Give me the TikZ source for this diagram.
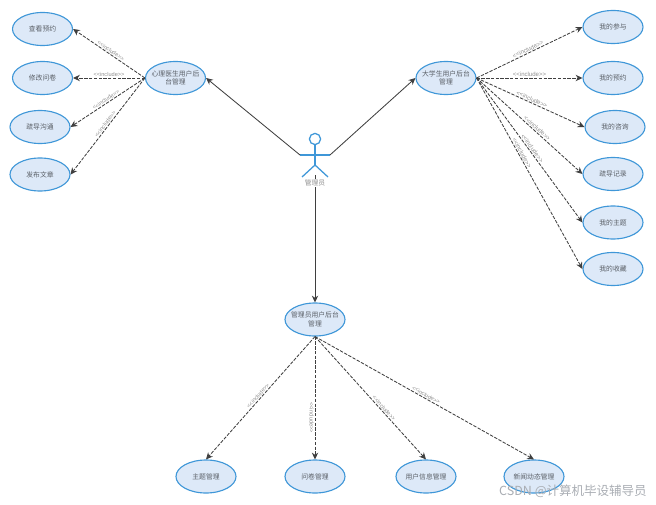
\documentclass[tikz,border=0pt]{standalone}
\usepackage{fontspec}
\setmainfont{Liberation Sans}
\newfontfamily\cjk{Noto Sans CJK SC}
\usetikzlibrary{arrows.meta, shapes.geometric}
\definecolor{ucblue}{HTML}{3F97D8}
\definecolor{uclight}{HTML}{DDE9F8}
\definecolor{uctext}{HTML}{5A5F66}
\definecolor{ucline}{HTML}{3F3F3F}
\definecolor{uclabel}{HTML}{8F8F8F}
\definecolor{ucmark}{HTML}{A9ADB3}

\begin{document}
\begin{tikzpicture}[x=0.025cm, y=-0.025cm,
     uc/.style={ellipse, draw=ucblue, line width=0.8pt, fill=uclight, minimum width=1.5cm, minimum height=0.825cm,
       inner sep=-3pt, align=center, text=uctext, font=\cjk\fontsize{4.85}{5.9}\selectfont},
     act/.style={draw=ucblue, line width=0.9pt},
     a/.style={-{Stealth[length=1.7mm, width=1.6mm]}, ucline, line width=0.6pt},
     inc/.style={-{Stealth[length=1.7mm, width=1.6mm]}, ucline, line width=0.6pt, dash pattern=on 2.4pt off 1pt},
     lab/.style={sloped, above, inner sep=0.6pt, text=uclabel, font=\fontsize{4}{4}\selectfont},
     labw/.style={lab, font=\fontsize{4.3}{4.3}\selectfont}]
    \useasboundingbox (0,0) rectangle (656,505);
    % doctor side
    \node[uc] (doc) at (175.5,78) {心理医生用户后\\台管理};
    \node[uc] (dview) at (42.5,29) {查看预约};
    \node[uc] (dform) at (42.5,78) {修改问卷};
    \node[uc] (dtalk) at (40,127) {疏导沟通};
    \node[uc] (dpost) at (40,174.5) {发布文章};
    % student side
    \node[uc] (stu) at (446,78) {大学生用户后台\\管理};
    \node[uc] (sjoin) at (613,27) {我的参与};
    \node[uc] (sbook) at (613,78) {我的预约};
    \node[uc] (sask) at (615,127) {我的咨询};
    \node[uc] (slog) at (613,174) {疏导记录};
    \node[uc] (stopic) at (613,222.5) {我的主题};
    \node[uc] (sfav) at (613,269) {我的收藏};
    % admin side
    \node[uc] (adm) at (315,319.5) {管理员用户后台\\管理};
    \node[uc] (mtopic) at (206,476.5) {主题管理};
    \node[uc] (mform) at (315,476.5) {问卷管理};
    \node[uc] (muser) at (426,476.5) {用户信息管理};
    \node[uc] (mnews) at (534,476.5) {新闻动态管理};
    % actor
    \node[circle, act, minimum size=0.28cm, inner sep=0pt] (head) at (315,139) {};
    \coordinate (handl) at (300,155);
    \coordinate (handr) at (330,155);
    \coordinate (hip) at (315,165);
    \coordinate (footl) at (302,177);
    \coordinate (footr) at (328,177);
    \coordinate (base) at (315,175);
    \draw[act] (head.south) -- (hip);
    \draw[act] (handl) -- (handr);
    \draw[act] (footl) -- (hip) -- (footr);
    \draw[a] (handl) -- (doc.east);
    \draw[a] (handr) -- (stu.west);
    \draw[a] (base) -- (adm.north);
    \node[fill=white, inner sep=0.5pt, text=uclabel, font=\cjk\fontsize{4.85}{5.9}\selectfont] (mgr) at (315,183) {管理员};
    % includes
    \draw[inc] (doc.west) -- node[lab] {<{}<include>{}>} (dview.east);
    \draw[inc] (doc.west) -- node[lab] {<{}<include>{}>} (dform.east);
    \draw[inc] (doc.west) -- node[lab] {<{}<include>{}>} (dtalk.east);
    \draw[inc] (doc.west) -- node[lab] {<{}<include>{}>} (dpost.east);
    \draw[inc] (stu.east) -- node[labw] {<{}<include>{}>} (sjoin.west);
    \draw[inc] (stu.east) -- node[labw] {<{}<include>{}>} (sbook.west);
    \draw[inc] (stu.east) -- node[labw] {<{}<include>{}>} (sask.west);
    \draw[inc] (stu.east) -- node[labw, pos=0.55] {<{}<include>{}>} (slog.west);
    \draw[inc] (stu.east) -- node[labw, pos=0.5] {<{}<include>{}>} (stopic.west);
    \draw[inc] (stu.east) -- node[labw, pos=0.4] {<{}<include>{}>} (sfav.west);
    \draw[inc] (adm.south) -- node[lab] {<{}<include>{}>} (mtopic.north);
    \draw[inc] (adm.south) -- node[lab, below, pos=0.66] {<{}<include>{}>} (mform.north);
    \draw[inc] (adm.south) -- node[lab, pos=0.6] {<{}<include>{}>} (muser.north);
    \draw[inc] (adm.south) -- node[lab] {<{}<include>{}>} (mnews.north);
    \node[anchor=east, inner sep=0pt, text=ucmark, font=\cjk\fontsize{8.9}{9}\selectfont] (mark) at (647,491) {CSDN @计算机毕设辅导员};
  \end{tikzpicture}
\end{document}
